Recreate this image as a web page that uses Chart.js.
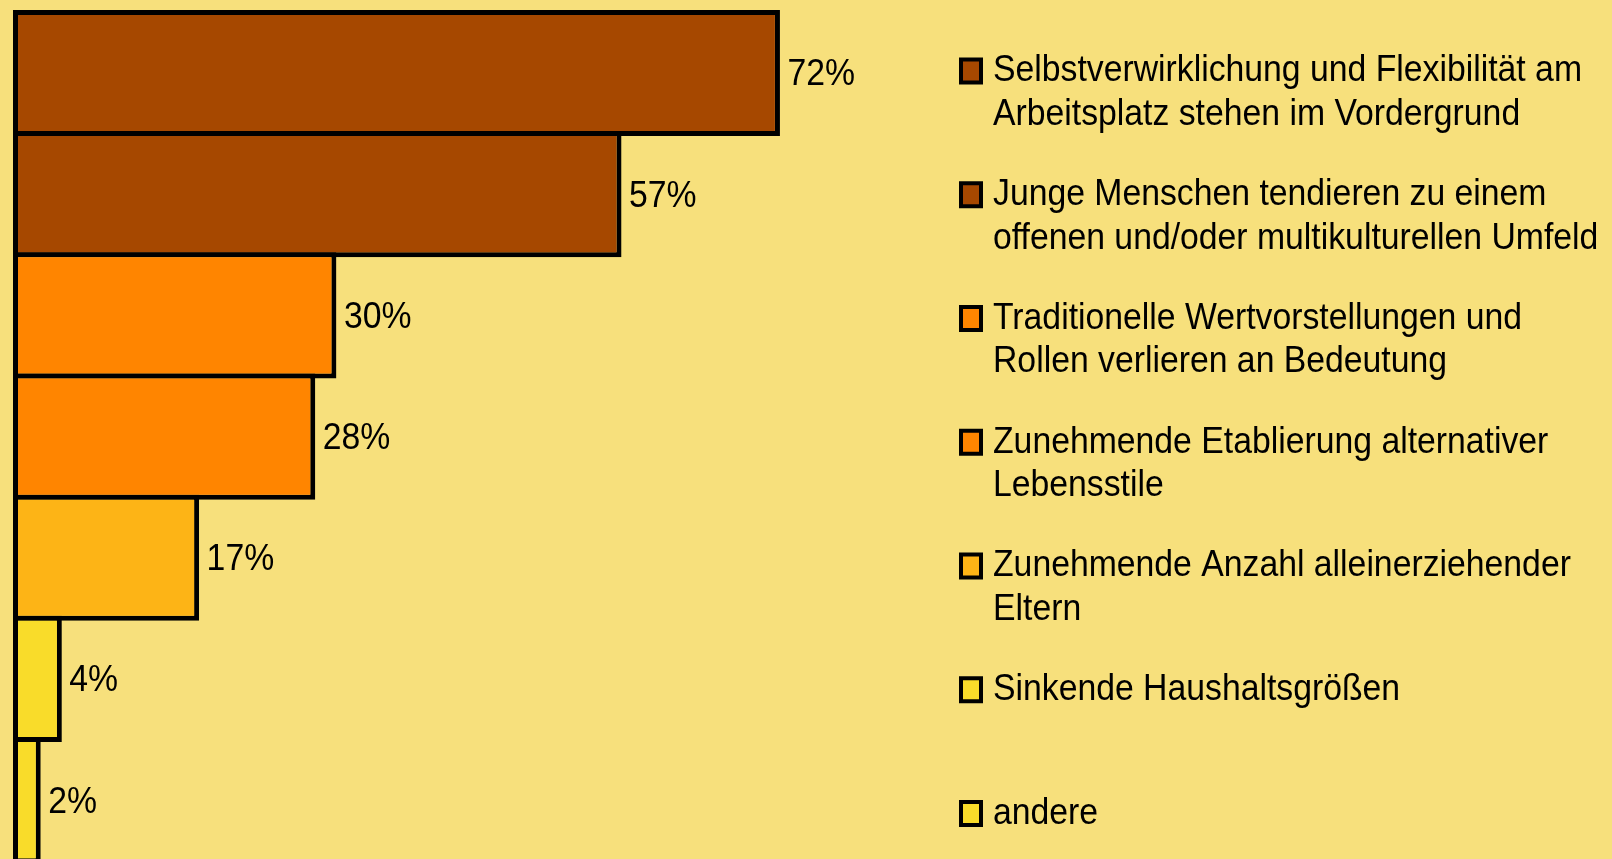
<!DOCTYPE html>
<html lang="de">
<head>
<meta charset="utf-8">
<title>Gesellschaftliche Trends</title>
<script src="https://cdn.jsdelivr.net/npm/chart.js@4.4.1/dist/chart.umd.min.js"></script>
<style>
  html, body { margin: 0; padding: 0; overflow: hidden; background: #F7E07C; }
  #wrap { position: relative; width: 1612px; height: 864px; }
</style>
</head>
<body>
<div id="wrap"><canvas id="trendChart"></canvas></div>
<script>
// ── Daten ────────────────────────────────────────────────
const categories = [
  ['Selbstverwirklichung und Flexibilität am', 'Arbeitsplatz stehen im Vordergrund'],
  ['Junge Menschen tendieren zu einem', 'offenen und/oder multikulturellen Umfeld'],
  ['Traditionelle Wertvorstellungen und', 'Rollen verlieren an Bedeutung'],
  ['Zunehmende Etablierung alternativer', 'Lebensstile'],
  ['Zunehmende Anzahl alleinerziehender', 'Eltern'],
  ['Sinkende Haushaltsgrößen'],
  ['andere'],
];
const shares = [72, 57, 30, 28, 17, 4, 2];
const barColors = ['#A64800', '#A64800', '#FF8500', '#FF8500', '#FDB416', '#F9DC2A', '#F9DC2A'];

// ── Text: leicht schmal gezogen wie im Original ──────────
const FONT_SIZE = 37.5;
const SQUEEZE = 0.9;
const X_MIN = -0.625;

function drawText(ctx, text, x, capMid) {
  ctx.save();
  ctx.translate(x, capMid + FONT_SIZE * 0.358);
  ctx.scale(SQUEEZE, 1);
  ctx.fillText(text, 0, 0);
  ctx.restore();
}

// Prozentwerte rechts neben den Balken
const valueLabels = {
  id: 'valueLabels',
  afterDatasetsDraw(chart) {
    const ctx = chart.ctx;
    ctx.font = `${FONT_SIZE}px "Liberation Sans", Arial, sans-serif`;
    ctx.fillStyle = '#000';
    ctx.textBaseline = 'alphabetic';
    chart.getDatasetMeta(0).data.forEach((bar, i) => {
      drawText(ctx, shares[i] + '%', bar.x + 7.5, bar.y - 1);
    });
  }
};

// Legende rechts, mehrzeilig
const sideLegend = {
  id: 'sideLegend',
  afterDraw(chart) {
    const ctx = chart.ctx;
    ctx.font = `${FONT_SIZE}px "Liberation Sans", Arial, sans-serif`;
    ctx.textBaseline = 'alphabetic';
    categories.forEach((lines, i) => {
      const mid = 68 + i * 123.75;
      ctx.fillStyle = '#000';
      ctx.fillRect(959, mid + 3 - 13.5, 24, 27);
      ctx.fillStyle = barColors[i];
      ctx.fillRect(963, mid + 3 - 9.5, 16, 19);
      ctx.fillStyle = '#000';
      lines.forEach((line, j) => drawText(ctx, line, 993, mid + j * 43.5));
    });
  }
};

new Chart(document.getElementById('trendChart'), {
  type: 'bar',
  data: {
    labels: categories.map(l => l.join(' ')),
    datasets: [{
      data: shares,
      backgroundColor: barColors,
      borderColor: '#000',
      borderWidth: 5,
      borderSkipped: false,
      base: X_MIN,
      categoryPercentage: 1,
      barPercentage: 1.041,
      clip: false,
    }],
  },
  options: {
    indexAxis: 'y',
    responsive: true,
    maintainAspectRatio: false,
    animation: false,
    events: [],
    layout: { padding: { left: 13, right: 642, top: 12.4, bottom: 3.3 } },
    scales: {
      x: { display: false, min: X_MIN, max: 90 },
      y: { display: false },
    },
    plugins: {
      legend: { display: false },
      tooltip: { enabled: false },
    },
  },
  plugins: [valueLabels, sideLegend],
});
</script>
</body>
</html>
